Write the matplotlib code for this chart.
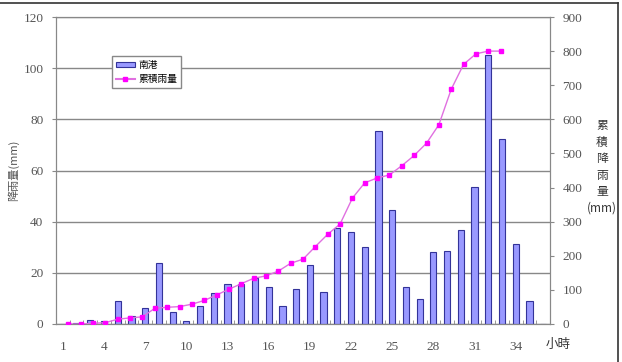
import matplotlib
matplotlib.use("Agg")
import matplotlib.pyplot as plt
from matplotlib.patches import Patch
from matplotlib.lines import Line2D

# hourly rainfall (mm) at 南港, hours 1..36
hours = list(range(1, 37))
rain = [0, 0.3, 1.6, 1.0, 9.1, 3.1, 6.1, 23.7, 4.6, 1.0, 7.2, 12.0, 15.5, 15.8, 18.1, 14.6, 7.2, 13.7,
        23.0, 12.6, 37.6, 36.0, 30.2, 75.5, 44.5, 14.6, 9.6, 28.1, 28.4, 36.6, 53.5, 105.1, 72.5, 31.1, 9.1, 0]
# cumulative rainfall (mm)
cum = [0, 0, 2, 4, 14, 18, 21, 46, 49, 51, 58, 69, 85, 102, 118, 134, 141, 155,
       178, 190, 227, 263, 293, 369, 414, 428, 437, 464, 494, 530, 584, 688, 761, 792, 800, 800]
xlabels = [1, 4, 7, 10, 13, 16, 19, 22, 25, 28, 31, 34]

serif = ["Liberation Serif", "DejaVu Serif"]
cjk = ["Noto Sans CJK TC", "DejaVu Sans"]
tcol = "#555555"

fig = plt.figure(figsize=(6.22, 3.62), dpi=100)
ax = fig.add_axes([56 / 622, 38 / 362, 494 / 622, 307 / 362])

ax.bar(hours, rain, width=0.45, color="#9999ff", edgecolor="#333399", linewidth=0.8, zorder=2)
ax.set_xlim(0.5, 36.5)
ax.set_ylim(0, 120)
ax.set_yticks(range(0, 121, 20))
ax.grid(axis="y", color="#888888", linewidth=1)
ax.set_axisbelow(True)
ax.set_xticks(xlabels)
ax.set_xticklabels([str(v) for v in xlabels])
ax.set_xticks([h + 0.5 for h in hours[:-1]], minor=True)
ax.tick_params(axis="x", which="major", length=0, pad=12)
ax.tick_params(axis="x", which="minor", length=3, direction="in", color="#888888")
ax.tick_params(axis="y", length=3, color="#888888", pad=6)
for lab in ax.get_xticklabels() + ax.get_yticklabels():
    lab.set_family(serif)
    lab.set_fontsize(9.5)
    lab.set_color(tcol)
for s in ax.spines.values():
    s.set_color("#888888")

ax2 = ax.twinx()
ax2.set_ylim(0, 900)
ax2.set_yticks(range(0, 901, 100))
ax2.tick_params(axis="y", length=3, color="#888888", pad=6)
for lab in ax2.get_yticklabels():
    lab.set_family(serif)
    lab.set_fontsize(9.5)
    lab.set_color(tcol)
for s in ax2.spines.values():
    s.set_color("#888888")

# cumulative line sits on its own category axis (40 slots)
ax3 = ax2.twiny()
ax3.set_xlim(0, 40)
ax3.plot(hours, cum, color="#e070e0", linewidth=1, marker="s", markersize=3.5,
         markerfacecolor="#ff00ff", markeredgecolor="#ff00ff", zorder=3)
ax3.set_xticks([])
for s in ax3.spines.values():
    s.set_visible(False)

fig.text(13 / 622, 1 - 170 / 362, "降雨量(mm)", rotation=90, ha="center", va="center",
         family=cjk, fontsize=8, color=tcol)
fig.text(602 / 622, 1 - 167 / 362, "累\n積\n降\n雨\n量\n(mm)", ha="center", va="center",
         family=cjk, fontsize=8.5, color="#333333", linespacing=1.35)
fig.text(558 / 622, 1 - 344 / 362, "小時", ha="center", va="center", family=cjk, fontsize=9, color="#333333")

handles = [Patch(facecolor="#9999ff", edgecolor="#333399", linewidth=0.8),
           Line2D([], [], color="#e070e0", marker="s", markersize=3.5,
                  markerfacecolor="#ff00ff", markeredgecolor="#ff00ff")]
leg = ax3.legend(handles, ["南港", "累積雨量"], loc="upper left", bbox_to_anchor=(0.103, 0.888),
                 prop={"family": cjk, "size": 7}, fancybox=False, framealpha=1, edgecolor="#888888",
                 handlelength=2.0, handleheight=0.5, handletextpad=0.3, borderpad=0.4, labelspacing=0.4)
leg.get_frame().set_linewidth(1)

# chart frame (top and right visible)
fig.add_artist(Line2D([0, 618 / 622], [1 - 3 / 362, 1 - 3 / 362], color="#333333", linewidth=1.2))
fig.add_artist(Line2D([618 / 622, 618 / 622], [0, 1 - 3 / 362], color="#333333", linewidth=1.2))

fig.savefig("out.png", dpi=100)
